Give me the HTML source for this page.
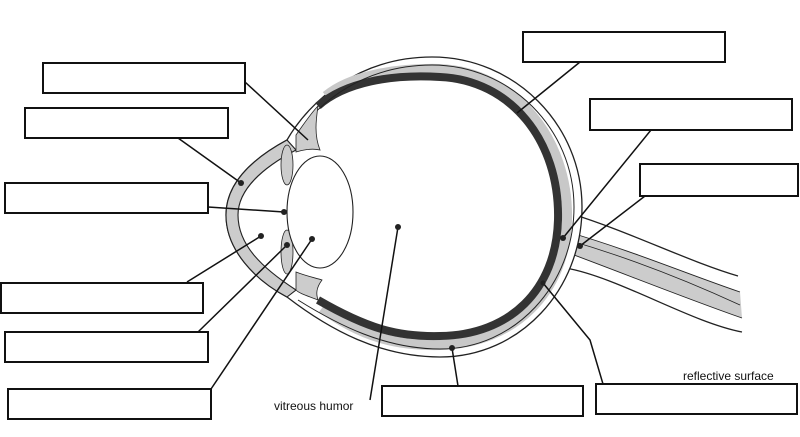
<!DOCTYPE html>
<html><head><style>body{margin:0;background:#fff}svg{display:block}text{font-family:"Liberation Sans",sans-serif;font-size:12px;fill:#111}</style></head>
<body>
<svg width="800" height="437" viewBox="0 0 800 437" xmlns="http://www.w3.org/2000/svg">
<!-- optic nerve -->
<path d="M572,214 C630,232 690,262 738,276 L742,332 C680,322 610,282 566,268 Z" fill="#fff" stroke="none"/>
<path d="M568,232 C630,250 690,275 740,292 L742,318 C690,300 620,272 566,252 Z" fill="#ccc" stroke="none"/>
<g stroke="#222" stroke-width="1.3" fill="none">
<path d="M572,214 C630,232 690,262 738,276"/>
<path d="M566,268 C620,278 690,322 742,332"/>
<path d="M568,232 C630,250 690,275 740,292" stroke-width="0.9"/>
<path d="M566,252 C620,272 690,300 742,318" stroke-width="0.9"/>
<path d="M568,240 C630,258 690,282 740,305" stroke-width="0.8"/>
</g>
<!-- sclera outer -->
<path d="M287,140 C310,100 360,57 432,57 C515,57 582,125 582,207 C582,290 520,357 440,357 C380,357 330,330 287,297 C255,280 226,250 226,215 C226,185 250,160 287,140 Z" fill="#fff" stroke="#222" stroke-width="1.3"/>
<!-- gray retina & black choroid -->
<path d="M326,96 C350,76 395,68 440,69 C515,72 569,140 567,220 C565,292 515,343 440,345 C395,346 360,336 322,308" fill="none" stroke="#c8c8c8" stroke-width="10"/>
<path d="M318,106 C345,82 392,74 440,77 C510,80 560,140 558,220 C556,290 510,335 440,336 C400,337 370,330 318,300" fill="none" stroke="#333" stroke-width="8"/>
<!-- sclera inner line -->
<path d="M297,135 C318,102 365,65 432,65 C510,65 574,128 574,207 C574,285 515,349 440,349 C385,349 338,325 298,300" fill="none" stroke="#222" stroke-width="1"/>
<g stroke="#222" stroke-width="1.1">
<!-- cornea -->
<path d="M287,140 C250,160 226,185 226,215 C226,250 255,280 287,297 L296,290 C262,268 238,245 238,215 C238,190 262,168 296,150 Z" fill="#ccc"/>
<!-- ciliary -->
<path d="M296,135 C305,122 312,112 318,106 C316,120 314,135 320,150 C312,148 302,150 296,152 Z" fill="#ccc" stroke-width="0.8"/>
<path d="M296,272 C306,276 316,278 322,280 C316,288 316,294 318,300 C308,296 300,294 296,290 Z" fill="#ccc" stroke-width="0.8"/>
<ellipse cx="287" cy="165" rx="6" ry="20" fill="#ccc" stroke-width="0.8"/>
<ellipse cx="287" cy="252" rx="6" ry="22" fill="#ccc" stroke-width="0.8"/>
<!-- lens -->
<ellipse cx="320" cy="212" rx="33" ry="56" fill="#fff"/>
</g>
<!-- boxes -->
<g fill="#fff" stroke="#111" stroke-width="2">
<rect x="43" y="63" width="202" height="30"/><rect x="25" y="108" width="203" height="30"/>
<rect x="5" y="183" width="203" height="30"/><rect x="1" y="283" width="202" height="30"/>
<rect x="5" y="332" width="203" height="30"/><rect x="8" y="389" width="203" height="30"/>
<rect x="382" y="386" width="201" height="30"/><rect x="596" y="384" width="201" height="30"/>
<rect x="523" y="32" width="202" height="30"/><rect x="590" y="99" width="202" height="31"/>
<rect x="640" y="164" width="158" height="32"/>
</g>
<g stroke="#111" stroke-width="1.5" fill="none">
<path d="M245,82 L308,140"/><path d="M178,138 L241,183"/><path d="M208,207 L284,212"/>
<path d="M187,282 L261,236"/><path d="M198,332 L287,245"/><path d="M211,389 L312,239"/>
<path d="M370,400 L398,227"/><path d="M458,386 L452,348"/><path d="M603,384 L590,340 L543,283"/>
<path d="M580,62 L517,113"/><path d="M651,130 L563,238"/><path d="M645,196 L580,246"/>
</g>
<g fill="#222">
<circle cx="241" cy="183" r="3"/><circle cx="284" cy="212" r="3"/><circle cx="261" cy="236" r="3"/>
<circle cx="287" cy="245" r="3"/><circle cx="312" cy="239" r="3"/><circle cx="398" cy="227" r="3"/>
<circle cx="452" cy="348" r="3"/><circle cx="543" cy="283" r="2.5"/><circle cx="563" cy="238" r="3"/>
<circle cx="580" cy="246" r="3"/>
</g>
<text x="274" y="410">vitreous humor</text>
<text x="683" y="380">reflective surface</text>
</svg>
</body></html>
